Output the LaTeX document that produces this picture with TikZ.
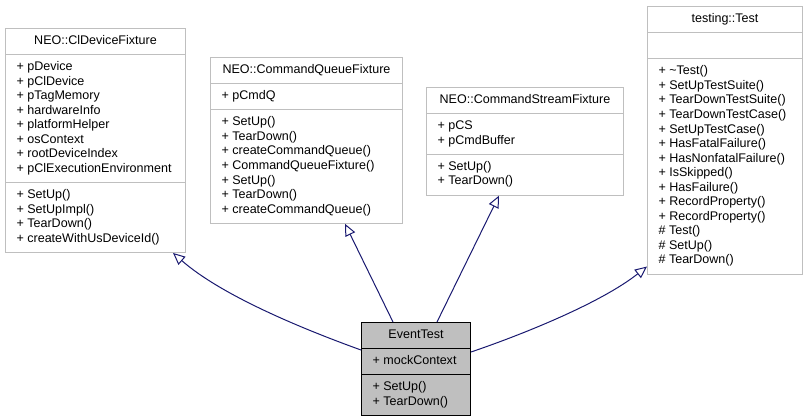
\documentclass[tikz,border=0pt]{standalone}
\usepackage{fontspec}
\setmainfont{Liberation Sans}
\usetikzlibrary{arrows.meta,shapes.multipart,calc}
\definecolor{edgeblue}{HTML}{191970}
\definecolor{boxgrey}{HTML}{BFBFBF}
\tikzset{classbox/.style = {rectangle split, rectangle split parts=3, draw=boxgrey, line width=0.75pt, align=left, rectangle split part align={center,left,left}, inner xsep=8.3pt, inner ysep=4pt, font=\fontsize{9.4}{10.9}\selectfont, anchor=north west}}
\tikzset{mainbox/.style = {classbox, draw=black, fill=boxgrey}}
\tikzset{inherits/.style = {draw=edgeblue, line width=0.75pt, -{Triangle[open,length=9pt,width=8pt]}}}

\begin{document}
\begin{tikzpicture}[x=0.75pt,y=-0.75pt]
		\useasboundingbox (0,0) rectangle (808,419);

		% classes
		\node[classbox, minimum width=135pt] (clfix) at (5,28) {\strut NEO::ClDeviceFixture
			\nodepart{second}\strut+ pDevice\\+ pClDevice\\+ pTagMemory\\+ hardwareInfo\\+ platformHelper\\+ osContext\\+ rootDeviceIndex\\+ pClExecutionEnvironment\strut
			\nodepart{third}\strut+ SetUp()\\+ SetUpImpl()\\+ TearDown()\\+ createWithUsDeviceId()\strut};
		\node[classbox, minimum width=144pt] (cqfix) at (210,57) {\strut NEO::CommandQueueFixture
			\nodepart{second}\strut+ pCmdQ\strut
			\nodepart{third}\strut+ SetUp()\\+ TearDown()\\+ createCommandQueue()\\+ CommandQueueFixture()\\+ SetUp()\\+ TearDown()\\+ createCommandQueue()\strut};
		\node[classbox, minimum width=147.75pt] (csfix) at (426,87) {\strut NEO::CommandStreamFixture
			\nodepart{second}\strut+ pCS\\+ pCmdBuffer\strut
			\nodepart{third}\strut+ SetUp()\\+ TearDown()\strut};
		\node[classbox, minimum width=116.25pt] (gtest) at (647,6) {\strut testing::Test
			\nodepart{second}\strut
			\nodepart{third}\strut+ \textasciitilde Test()\\+ SetUpTestSuite()\\+ TearDownTestSuite()\\+ TearDownTestCase()\\+ SetUpTestCase()\\+ HasFatalFailure()\\+ HasNonfatalFailure()\\+ IsSkipped()\\+ HasFailure()\\+ RecordProperty()\\+ RecordProperty()\\\# Test()\\\# SetUp()\\\# TearDown()\strut};
		\node[mainbox, minimum width=81.75pt] (evt) at (361,322) {\strut EventTest
			\nodepart{second}\strut+ mockContext\strut
			\nodepart{third}\strut+ SetUp()\\+ TearDown()\strut};

		% inheritance
		\draw[inherits] ($(evt.north west)+(0,28)$) .. controls +(-61,-22) and +(48,42) .. ($(clfix.south east)+(-13,0)$);
		\draw[inherits] ($(evt.north west)+(32,0)$) -- ($(cqfix.south west)+(135,0)$);
		\draw[inherits] ($(evt.north west)+(76,0)$) -- ($(csfix.south west)+(73,0)$);
		\draw[inherits] ($(evt.north east)+(0,30)$) .. controls +(50,-17) and +(-47,37) .. ($(gtest.south west)+(0,-8)$);
	\end{tikzpicture}
\end{document}
